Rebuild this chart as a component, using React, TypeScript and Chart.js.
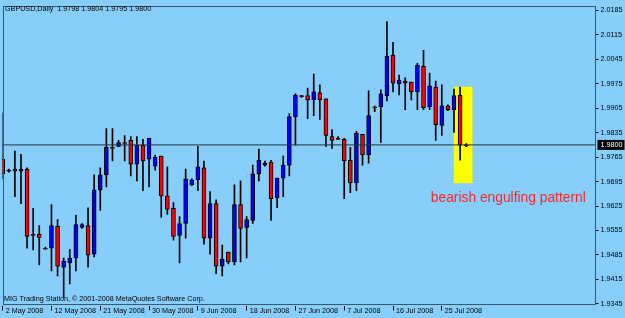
import React, { useEffect, useRef } from "react";
import { Chart, registerables } from "chart.js";

Chart.register(...registerables);

const TITLE = "GBPUSD,Daily  1.9798 1.9804 1.9795 1.9800";
const COPYRIGHT = "MIG Trading Station, \u00A9 2001-2008 MetaQuotes Software Corp.";
const NOTE = "bearish engulfing patternl";

const openP = [
  1.9759, 1.9725, 1.9731, 1.9725, 1.9731, 1.9544, 1.9544, 1.9504, 1.9504, 1.9567,
  1.945, 1.9462, 1.9476, 1.9564, 1.9569, 1.9487, 1.9671, 1.9714, 1.9793, 1.9796,
  1.9807, 1.9813, 1.9745, 1.9799, 1.9759, 1.9739, 1.9768, 1.9654, 1.9618, 1.9541,
  1.9575, 1.9686, 1.97, 1.9734, 1.9533, 1.9632, 1.9453, 1.9493, 1.9465, 1.9629,
  1.9564, 1.9584, 1.9717, 1.9742, 1.9751, 1.9649, 1.9705, 1.9742, 1.9881, 1.9941,
  1.9941, 1.9929, 1.9949, 1.9932, 1.9824, 1.9819, 1.9816, 1.9756, 1.9691, 1.983,
  1.9771, 1.9909, 1.9909, 1.9941, 2.0057, 1.9975, 1.9983, 1.998, 1.9952, 2.0026,
  1.9909, 1.9966, 1.9856, 1.9912, 1.9901, 1.9943, 1.9798,
];
const highP = [
  1.9892, 1.9731, 1.9782, 1.9773, 1.9734, 1.9618, 1.9569, 1.9507, 1.9629, 1.9586,
  1.9476, 1.9501, 1.9598, 1.9575, 1.962, 1.9714, 1.9734, 1.9847, 1.9847, 1.9813,
  1.9827, 1.9824, 1.9824, 1.9816, 1.9819, 1.9771, 1.9768, 1.9737, 1.9635, 1.9595,
  1.9731, 1.9703, 1.9796, 1.9754, 1.9666, 1.9643, 1.9513, 1.9493, 1.9686, 1.9697,
  1.9595, 1.9742, 1.9788, 1.9754, 1.9756, 1.9705, 1.9768, 1.989, 1.9946, 1.9942,
  1.9963, 2.0003, 1.9972, 1.9932, 1.9844, 1.9824, 1.9819, 1.9793, 1.9839, 1.983,
  1.9955, 1.9911, 1.9958, 2.0153, 2.0094, 2.0, 1.9992, 1.998, 2.0034, 2.0071,
  2.0006, 1.9983, 1.9972, 1.9915, 1.996, 1.9966, 1.9804,
];
const lowP = [
  1.9703, 1.9722, 1.9652, 1.9632, 1.9504, 1.9499, 1.9456, 1.9501, 1.9439, 1.9425,
  1.9363, 1.9402, 1.9439, 1.9561, 1.945, 1.9479, 1.9612, 1.968, 1.9754, 1.9795,
  1.9754, 1.9711, 1.9697, 1.9669, 1.968, 1.9728, 1.9592, 1.9601, 1.9527, 1.9462,
  1.9533, 1.9683, 1.9669, 1.9516, 1.9487, 1.9431, 1.9425, 1.9459, 1.9456, 1.9465,
  1.9476, 1.9575, 1.9697, 1.9739, 1.9584, 1.962, 1.9652, 1.9711, 1.9799, 1.9936,
  1.9875, 1.9884, 1.9873, 1.9796, 1.979, 1.9815, 1.9646, 1.9663, 1.9669, 1.9742,
  1.9748, 1.9895, 1.9807, 1.9926, 1.9952, 1.9943, 1.9901, 1.9929, 1.9901, 1.9901,
  1.9901, 1.9813, 1.9827, 1.9898, 1.9836, 1.9756, 1.9795,
];
const closeP = [
  1.9717, 1.9728, 1.9725, 1.9731, 1.9538, 1.9541, 1.9535, 1.9501, 1.9569, 1.9453,
  1.9467, 1.9476, 1.9572, 1.9572, 1.9484, 1.9671, 1.9714, 1.9793, 1.979, 1.9807,
  1.9804, 1.9745, 1.9799, 1.9754, 1.9819, 1.9765, 1.9654, 1.9615, 1.9538, 1.9575,
  1.9703, 1.97, 1.9737, 1.9533, 1.9632, 1.9453, 1.9473, 1.9465, 1.9629, 1.9561,
  1.9586, 1.9717, 1.9756, 1.9748, 1.9646, 1.9705, 1.9742, 1.9881, 1.9943, 1.9938,
  1.9929, 1.9952, 1.9929, 1.9827, 1.9813, 1.9816, 1.9754, 1.9691, 1.9833, 1.9771,
  1.9884, 1.9906, 1.9946, 2.0054, 1.9977, 1.9986, 1.9977, 1.9952, 2.0028, 1.9907,
  1.9969, 1.9858, 1.9912, 1.9901, 1.9941, 1.9799, 1.98,
];

const dateTickIdx = [0, 8, 16, 24, 32, 40, 48, 56, 64, 72];
const dateTickLabels = [
  "2 May 2008", "12 May 2008", "21 May 2008", "30 May 2008", "9 Jun 2008",
  "18 Jun 2008", "27 Jun 2008", "7 Jul 2008", "16 Jul 2008", "25 Jul 2008",
];
const priceTicks = [
  2.0185, 2.0115, 2.0045, 1.9975, 1.9905, 1.9835, 1.9765, 1.9695, 1.9625,
  1.9555, 1.9485, 1.9415, 1.9345,
];
const bidPrice = 1.98;
const highlightCenter = 75.5;
const highlightRange = [1.9691, 1.9966];
const noteAnchor = { x: 70.2, y: 1.9637 };

const BG = "#87cefa";
const FRAME = "#3c5870";
const FONT = "'Liberation Sans', Arial, sans-serif";

export default function App() {
  const ref = useRef<HTMLCanvasElement | null>(null);

  useEffect(() => {
    const canvas = ref.current;
    if (!canvas) return;
    const idx = openP.map((_, i) => i);
    const bodies = idx.map((i) => ({ x: i, y: [openP[i], closeP[i]] }));
    const wicks = idx.map((i) => ({ x: i, y: [lowP[i], highP[i]] }));
    const bodyColors = idx.map((i) => (closeP[i] >= openP[i] ? "#0000ff" : "#ff0000"));

    const overlay = {
      id: "mtOverlay",
      afterDraw(chart: any) {
        const ctx = chart.ctx;
        const a = chart.chartArea;
        const ys = chart.scales.y;
        const xs = chart.scales.x;
        ctx.save();
        ctx.strokeStyle = FRAME;
        ctx.lineWidth = 1;
        ctx.strokeRect(Math.round(a.left) + 0.5, Math.round(a.top) + 0.5, Math.round(a.right - a.left) - 1, Math.round(a.bottom - a.top) - 1);
        ctx.fillStyle = "#000";
        ctx.font = `7.2px ${FONT}`;
        ctx.textBaseline = "alphabetic";
        ctx.textAlign = "left";
        ctx.fillText(TITLE, 5, 10.5);
        ctx.fillText(COPYRIGHT, 4, 300.5);
        const by = ys.getPixelForValue(bidPrice);
        ctx.fillStyle = "#000";
        ctx.fillRect(a.right + 2, by - 5, 27, 10);
        ctx.fillStyle = "#fff";
        ctx.textBaseline = "middle";
        ctx.fillText(bidPrice.toFixed(4), a.right + 5, by + 0.5);
        ctx.fillStyle = "#ff2626";
        ctx.font = `13.8px ${FONT}`;
        ctx.textBaseline = "alphabetic";
        ctx.fillText(NOTE, xs.getPixelForValue(noteAnchor.x), ys.getPixelForValue(noteAnchor.y));
        ctx.restore();
      },
    };

    const chart = new Chart(canvas, {
      type: "bar",
      data: {
        datasets: [
          {
            type: "line",
            data: [
              { x: -1, y: bidPrice },
              { x: 99, y: bidPrice },
            ],
            borderColor: "#26323c",
            borderWidth: 1,
            pointRadius: 0,
            order: 0,
          } as any,
          {
            data: bodies as any,
            backgroundColor: bodyColors,
            borderColor: "#000",
            borderWidth: 1,
            borderSkipped: false,
            barThickness: 4,
            grouped: false,
            order: 1,
          },
          {
            data: wicks as any,
            backgroundColor: "#000",
            borderWidth: 0,
            barThickness: 1,
            grouped: false,
            order: 2,
          },
          {
            data: [{ x: highlightCenter, y: highlightRange }] as any,
            backgroundColor: "#ffff00",
            borderWidth: 0,
            barThickness: 18,
            grouped: false,
            order: 3,
          },
        ],
      },
      options: {
        responsive: false,
        animation: false,
        devicePixelRatio: 1,
        layout: { padding: { left: 2.5, top: 2.5, right: 0, bottom: 0 } },
        plugins: { legend: { display: false }, tooltip: { enabled: false } },
        scales: {
          x: {
            type: "linear",
            min: -0.03,
            max: 97.2,
            offset: false,
            afterBuildTicks: (s: any) => {
              s.ticks = dateTickIdx.map((v) => ({ value: v }));
            },
            afterFit: (s: any) => {
              s.height = 12.5;
            },
            grid: { offset: false, drawOnChartArea: false, drawTicks: true, tickLength: 5, color: "#000" },
            border: { display: false },
            ticks: {
              autoSkip: false,
              maxRotation: 0,
              align: "start",
              labelOffset: 3,
              padding: -4,
              color: "#000",
              font: { family: FONT, size: 7.2 },
              callback: (_v: any, i: number) => dateTickLabels[i],
            },
          },
          y: {
            type: "linear",
            position: "right",
            min: 1.934,
            max: 2.0197,
            afterBuildTicks: (s: any) => {
              s.ticks = priceTicks.map((v) => ({ value: v }));
            },
            afterFit: (s: any) => {
              s.width = 29.5;
            },
            grid: { drawOnChartArea: false, drawTicks: true, tickLength: 3, color: "#000" },
            border: { display: false },
            ticks: {
              autoSkip: false,
              padding: 2,
              color: "#000",
              font: { family: FONT, size: 7.2 },
              callback: (v: any) => Number(v).toFixed(4),
            },
          },
        },
      },
      plugins: [overlay],
    });
    return () => chart.destroy();
  }, []);

  return (
    <div style={{ position: "fixed", left: 0, top: 0, width: 625, height: 318, background: BG }}>
      <canvas ref={ref} width={625} height={318} style={{ display: "block" }} />
    </div>
  );
}
